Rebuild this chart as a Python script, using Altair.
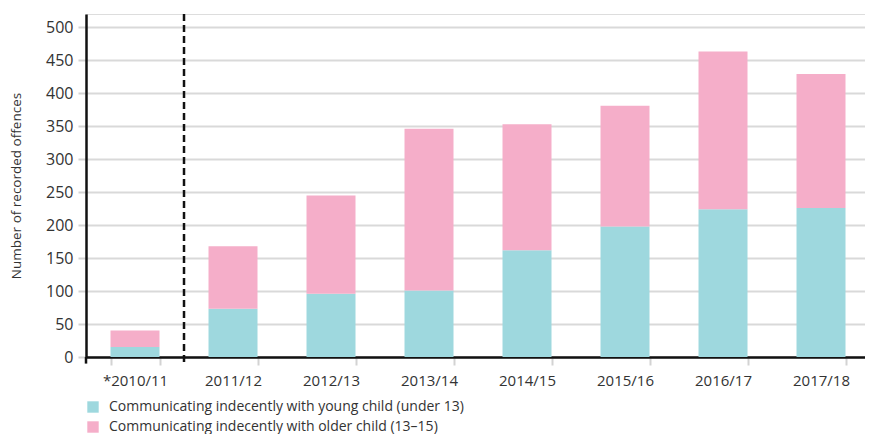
import altair as alt
import pandas as pd

years = ["*2010/11", "2011/12", "2012/13", "2013/14", "2014/15", "2015/16", "2016/17", "2017/18"]
young = [15, 73, 96, 101, 162, 198, 224, 226]
older = [25, 95, 149, 245, 191, 183, 239, 203]
series = ["Communicating indecently with young child (under 13)",
          "Communicating indecently with older child (13\u201315)"]
colors = ["#9ed8de", "#f5aec9"]
y_ticks = [0, 50, 100, 150, 200, 250, 300, 350, 400, 450, 500]

rows = []
for i, yr in enumerate(years):
    rows.append({"year": yr, "series": series[0], "value": young[i], "ord": 0})
    rows.append({"year": yr, "series": series[1], "value": older[i], "ord": 1})
df = pd.DataFrame(rows)

FONT = "Open Sans"

xscale = alt.Scale(domain=years, paddingInner=0.5, paddingOuter=0.2245, align=0.557)
yscale = alt.Scale(domain=[0, 520], nice=False, zero=True)

xaxis = alt.Axis(labelAngle=0, labelFontSize=15, labelColor="#333333", labelFont=FONT,
                 labelPadding=8, tickBand="extent", tickColor="#d3d3d3", tickWidth=2,
                 tickSize=8, domainColor="#111111", domainWidth=2.5, grid=False)
yaxis = alt.Axis(values=y_ticks, labelOverlap=False, labelFontSize=16,
                 labelColor="#333333", labelFont=FONT,
                 labelPadding=5, tickColor="#d3d3d3", tickWidth=2, tickSize=8,
                 gridColor="#d9d9d9", gridWidth=2, domainColor="#111111", domainWidth=2.5,
                 titleFont=FONT, titleFontSize=13.5, titleFontWeight="normal",
                 titleColor="#333333", titlePadding=22)
YTITLE = "Number of recorded offences"

bars = alt.Chart(df).mark_bar().encode(
    x=alt.X("year:N", scale=xscale, sort=years, title=None, axis=xaxis),
    y=alt.Y("value:Q", stack="zero", scale=yscale, title=YTITLE, axis=yaxis),
    color=alt.Color("series:N", scale=alt.Scale(domain=series, range=colors), sort=series,
                    legend=alt.Legend(title=None, orient="none", legendX=0, legendY=386,
                                      direction="vertical", symbolType="square", symbolSize=130,
                                      symbolStrokeWidth=0, labelFont=FONT, labelFontSize=14,
                                      labelColor="#333333", rowPadding=6, labelOffset=9,
                                      labelLimit=0)),
    order=alt.Order("ord:Q"),
)

div = pd.DataFrame({"year": [years[0]], "top": [520], "bottom": [-10]})
dashed = alt.Chart(div).mark_rule(color="#111111", strokeWidth=2.5, strokeDash=[7, 4],
                                  xOffset=24.5).encode(
    x=alt.X("year:N", scale=xscale, sort=years, bandPosition=1, title=None, axis=xaxis),
    y=alt.Y("top:Q", scale=yscale, title=YTITLE, axis=yaxis),
    y2=alt.Y2("bottom:Q"),
)
ytick = alt.Chart(div).mark_rule(color="#111111", strokeWidth=2.5, xOffset=-24.5).encode(
    x=alt.X("year:N", scale=xscale, sort=years, bandPosition=0, title=None, axis=xaxis),
    y=alt.Y("bottom:Q", scale=yscale, title=YTITLE, axis=yaxis),
    y2=alt.datum(0),
)

chart = alt.layer(bars, dashed, ytick).properties(
    width=779, height=343,
    autosize=alt.AutoSizeParams(type="none"),
    padding={"top": 6, "left": 78, "right": 0, "bottom": 77},
).configure_view(stroke=None, strokeWidth=0).configure(font=FONT)

chart.save("out.html", embed_options={"renderer": "svg", "actions": False})
